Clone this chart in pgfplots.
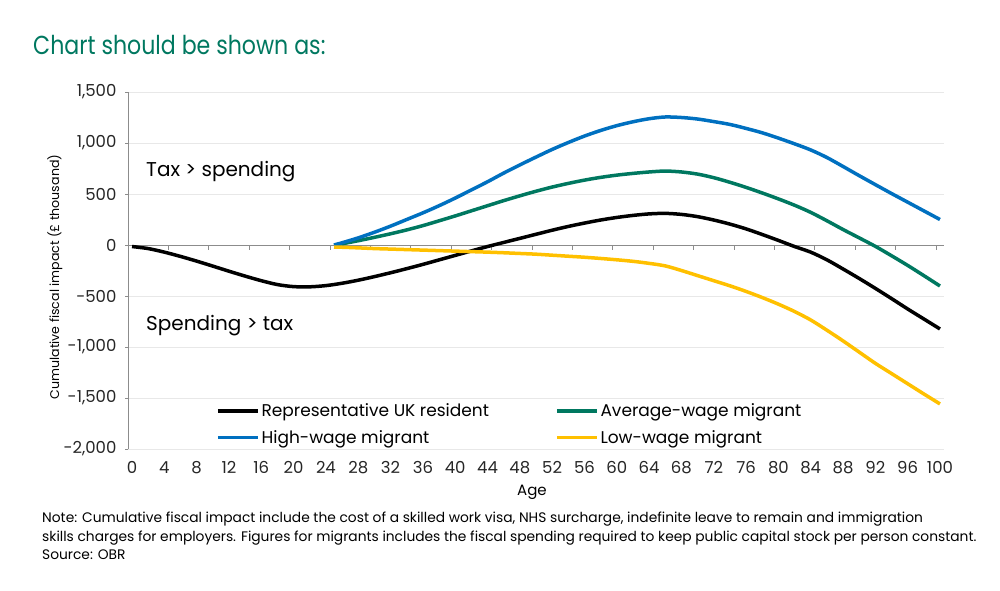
\documentclass[border=0pt]{standalone}
\usepackage{pgfplots}
\usepackage{pgfplotstable}
\pgfplotsset{compat=1.18}
\usepackage{fontspec}
\setmainfont{Poppins}
\newfontfamily\titlefont{Poppins}[FakeStretch=0.85]

\definecolor{obrgreen}{RGB}{0,120,96}
\definecolor{avgwage}{RGB}{0,120,96}
\definecolor{highwage}{RGB}{0,112,192}
\definecolor{lowwage}{RGB}{255,192,0}
\definecolor{gridgray}{RGB}{232,232,232}
\definecolor{axisgray}{RGB}{140,140,140}

% UK resident, by age
\pgfplotstableread{
age value
0 -15
2 -35
4 -70
6 -112
8 -158
10 -207
12 -257
14 -305
16 -350
18 -388
20 -408
22 -410
24 -398
26 -375
28 -345
30 -310
32 -272
34 -232
36 -190
38 -146
40 -102
42 -58
44 -15
46 25
48 65
50 105
52 145
54 182
56 215
58 245
60 270
62 290
64 305
66 310
68 300
70 278
72 245
74 205
76 158
78 103
80 45
82 -15
84 -70
86 -145
88 -235
90 -328
92 -425
94 -525
96 -627
98 -725
100 -823
}\residenttbl

% migrants arriving at 25
\pgfplotstableread{
age high avg low
25 0 0 -20
26 22 12 -22
28 70 42 -28
30 125 75 -35
32 185 110 -40
34 250 148 -45
36 315 190 -50
38 385 237 -55
40 460 285 -60
42 540 335 -65
44 620 385 -70
46 705 435 -76
48 785 482 -83
50 862 527 -90
52 937 568 -100
54 1005 604 -110
56 1068 636 -120
58 1123 663 -132
60 1170 685 -145
62 1208 702 -160
64 1238 716 -180
66 1255 725 -205
68 1250 716 -250
70 1235 695 -300
72 1210 660 -350
74 1182 615 -400
76 1143 565 -455
78 1100 510 -515
80 1048 452 -580
82 992 390 -652
84 932 320 -735
86 858 238 -835
88 770 152 -940
90 680 70 -1050
92 592 -13 -1160
94 505 -105 -1260
96 420 -200 -1360
98 335 -300 -1460
100 250 -402 -1558
}\migranttbl

\begin{document}
\begin{tikzpicture}[x=1pt,y=1pt]
\useasboundingbox (0,0) rectangle (1000,590);

\node[anchor=base west, inner sep=0, text=obrgreen, font=\titlefont\fontsize{26}{30}\selectfont] at (33,535) {Chart should be shown as:};

\begin{axis}[
    at={(128pt,141pt)}, anchor=south west,
    scale only axis, width=816pt, height=357pt,
    xmin=-0.5, xmax=100.5, ymin=-2000, ymax=1500,
    axis lines*=left,
    x axis line style={draw=none},
    y axis line style={draw=axisgray, line width=0.8pt},
    xtick={0,4,...,100},
    x tick style={draw=none},
    ytick={-2000,-1500,...,1500},
    yticklabels={{-2,000},{-1,500},{-1,000},{-500},0,500,{1,000},{1,500}},
    y tick style={draw=axisgray, line width=0.8pt},
    tick align=outside, major tick length=3pt,
    ymajorgrids, grid style={draw=gridgray, line width=0.8pt},
    /pgf/number format/assume math mode=true,
    tick label style={font=\fontsize{16.5}{19}\selectfont, text=black!85},
    xticklabel style={yshift=-6pt},
    yticklabel style={xshift=-5pt},
    clip=false,
    legend columns=2,
    legend cell align=left,
    legend style={at={(0.104,0.138)}, anchor=north west, draw=none, fill=none,
        font=\fontsize{17}{20}\selectfont, row sep=8pt,
        /tikz/every even column/.append style={column sep=64pt}},
    legend image code/.code={\draw[#1, line width=3.5pt] (0pt,0pt) -- (40pt,0pt);},
]
\draw[axisgray, line width=0.8pt] (axis cs:-0.5,0) -- (axis cs:100.5,0);
\pgfplotsinvokeforeach{4.5,9.5,...,99.5}{
    \draw[axisgray, line width=0.8pt] (axis cs:#1,0) -- ++(0pt,-5pt);
}
\addplot[black, line width=3.5pt, smooth] table[x=age, y=value] {\residenttbl};
\addlegendentry{Representative UK resident}
\addplot[avgwage, line width=3.5pt, smooth] table[x=age, y=avg] {\migranttbl};
\addlegendentry{Average-wage migrant}
\addplot[highwage, line width=3.5pt, smooth] table[x=age, y=high] {\migranttbl};
\addlegendentry{High-wage migrant}
\addplot[lowwage, line width=3.5pt, smooth] table[x=age, y=low] {\migranttbl};
\addlegendentry{Low-wage migrant}
\end{axis}

\node[anchor=base west, inner sep=0, font=\fontsize{20}{24}\selectfont] at (146,413) {Tax > spending};
\node[anchor=base west, inner sep=0, font=\fontsize{20}{24}\selectfont] at (146,260) {Spending > tax};

\node[rotate=90, inner sep=0, font=\fontsize{12.6}{15}\selectfont] at (55,313) {Cumulative fiscal impact (£ thousand)};
\node[inner sep=0, font=\fontsize{15}{17}\selectfont] at (532,98) {Age};

\node[anchor=north west, inner sep=0, align=left, font=\fontsize{13.8}{18.5}\selectfont] at (42,78)
{Note: Cumulative fiscal impact include the cost of a skilled work visa, NHS surcharge, indefinite leave to remain and immigration\\
skills charges for employers. Figures for migrants includes the fiscal spending required to keep public capital stock per person constant.\\
Source: OBR};
\end{tikzpicture}
\end{document}
